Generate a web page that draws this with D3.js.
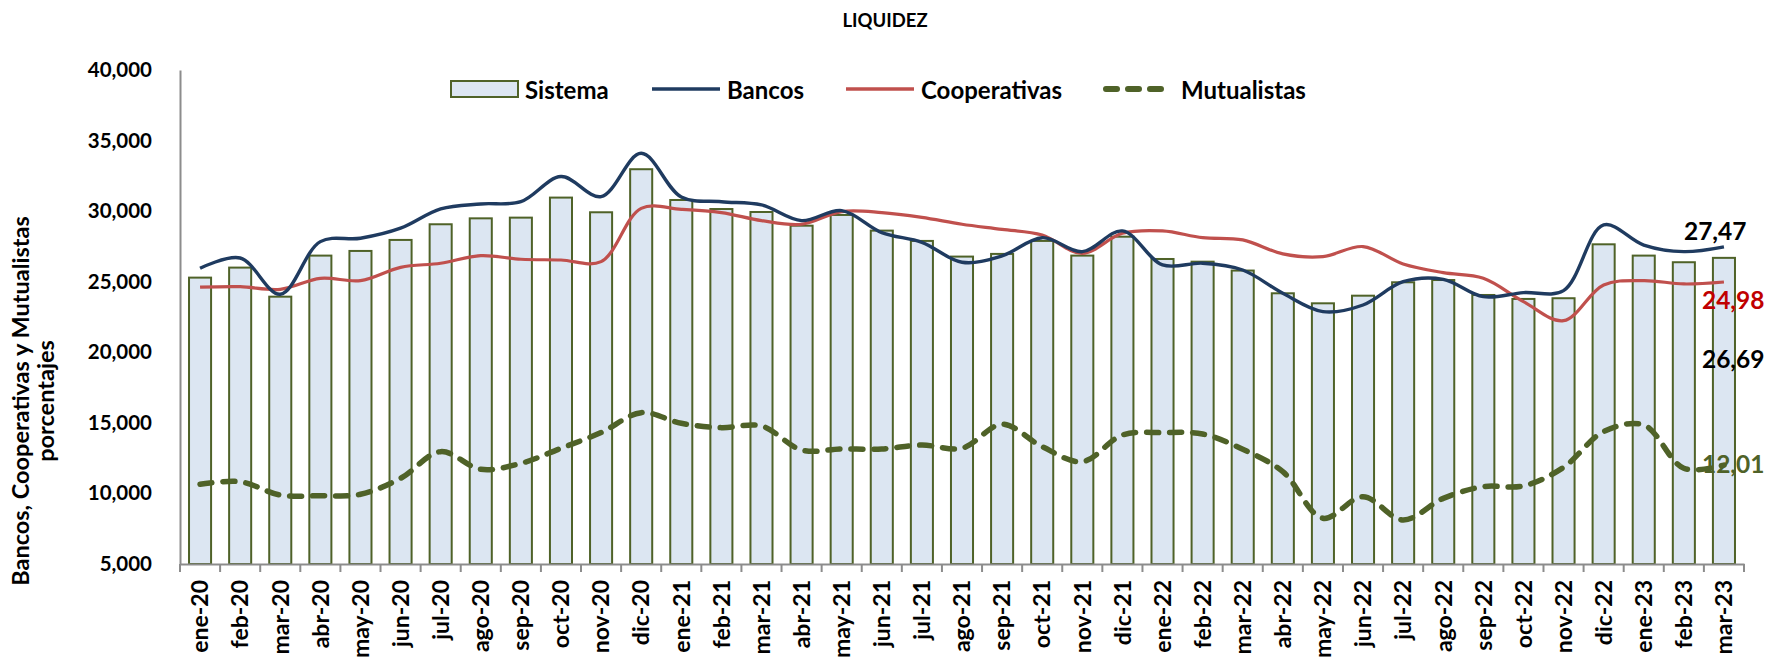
<!DOCTYPE html>
<html>
<head>
<meta charset="utf-8">
<script src="https://cdn.jsdelivr.net/npm/d3@7"></script>
<style>
  html, body { margin: 0; padding: 0; background: #ffffff; }
  svg { display: block; font-family: "Lato", "Open Sans", sans-serif; font-weight: bold; }
</style>
</head>
<body>
<svg id="chart" width="1765" height="661"></svg>
<script>
// Months on the category axis
const categories = [
  "ene-20","feb-20","mar-20","abr-20","may-20","jun-20","jul-20","ago-20","sep-20","oct-20","nov-20","dic-20",
  "ene-21","feb-21","mar-21","abr-21","may-21","jun-21","jul-21","ago-21","sep-21","oct-21","nov-21","dic-21",
  "ene-22","feb-22","mar-22","abr-22","may-22","jun-22","jul-22","ago-22","sep-22","oct-22","nov-22","dic-22",
  "ene-23","feb-23","mar-23"
];

// Sistema (bars)
const sistema = [
  25290, 26000, 23940, 26850, 27180, 27960, 29070, 29490, 29540, 30960, 29920, 32970,
  30790, 30150, 29940, 28970, 29730, 28620, 27890, 26780, 26970, 27890, 26850, 28190,
  26610, 26420, 25790, 24180, 23470, 24010, 24960, 25120, 24060, 23780, 23830, 27650,
  26850, 26380, 26690
];

// Bancos
const bancos = [
  25950, 26680, 24110, 27840, 28080, 28790, 30160, 30510, 30670, 32450, 31030, 34100,
  31000, 30670, 30440, 29330, 30040, 28480, 27790, 26380, 26830, 28120, 27130, 28600,
  26190, 26310, 25830, 24180, 22880, 23350, 25000, 25170, 23940, 24230, 24370, 29020,
  27600, 27130, 27470
];

// Cooperativas
const cooperativas = [
  24610, 24650, 24460, 25240, 25080, 26020, 26310, 26850, 26590, 26540, 26420, 30200,
  30130, 29900, 29330, 29070, 29970, 29900, 29560, 29070, 28710, 28310, 27010, 28430,
  28600, 28120, 27960, 26970, 26780, 27490, 26260, 25640, 25240, 23590, 22240, 24770,
  25080, 24840, 24980
];

// Mutualistas
const mutualistas = [
  10650, 10830, 9890, 9840, 9940, 11070, 12960, 11710, 12130, 13200, 14310, 15720,
  14970, 14660, 14780, 13080, 13150, 13150, 13430, 13200, 14900, 13310, 12250, 14140,
  14310, 14210, 13130, 11540, 8240, 9770, 8120, 9650, 10480, 10530, 11850, 14380,
  14850, 11780, 12010
];

const yTicks = [5000, 10000, 15000, 20000, 25000, 30000, 35000, 40000];

const title = "LIQUIDEZ";
const yTitleLines = ["Bancos, Cooperativas y Mutualistas", "porcentajes"];

const colors = {
  barFill: "#dce6f2",
  barStroke: "#4f6228",
  bancos: "#1f3b60",
  coop: "#c0504d",
  mutual: "#4f6228",
  axis: "#8c8c8c",
  redLabel: "#c00000"
};

const svg = d3.select("#chart");
const plot = { left: 180, right: 1744, top: 70, bottom: 564 };

const x = d3.scaleBand()
  .domain(categories)
  .range([plot.left, plot.right])
  .paddingInner(0.45)
  .paddingOuter(0.225);

const y = d3.scaleLinear()
  .domain([5000, 40000])
  .range([plot.bottom, plot.top]);

const cx = d => x(d) + x.bandwidth() / 2;

// Title
svg.append("text")
  .attr("x", 885).attr("y", 20)
  .attr("text-anchor", "middle")
  .attr("dominant-baseline", "central")
  .style("font-size", "18.5px")
  .text(title);

// Y axis title (two rotated lines)
yTitleLines.forEach((t, i) => {
  svg.append("text")
    .attr("transform", `translate(${20 + i * 25},401) rotate(-90)`)
    .attr("text-anchor", "middle")
    .attr("dominant-baseline", "central")
    .style("font-size", "23.5px")
    .text(t);
});

// Bars
svg.append("g").selectAll("rect")
  .data(categories)
  .join("rect")
  .attr("x", d => x(d))
  .attr("width", x.bandwidth())
  .attr("y", (d, i) => y(sistema[i]))
  .attr("height", (d, i) => y(5000) - y(sistema[i]))
  .attr("fill", colors.barFill)
  .attr("stroke", colors.barStroke)
  .attr("stroke-width", 2);

// Y axis
const yAxis = svg.append("g")
  .attr("transform", `translate(${plot.left},0)`)
  .call(d3.axisLeft(y).tickValues(yTicks).tickSize(0).tickPadding(28).tickFormat(d3.format(",")));
yAxis.select(".domain").attr("stroke", colors.axis).attr("stroke-width", 2);
yAxis.selectAll("text")
  .attr("fill", "#000")
  .style("font-size", "20.5px")
  .style("font-family", "Lato, sans-serif")
  .style("font-weight", "bold");

// X axis
const xAxis = svg.append("g")
  .attr("transform", `translate(0,${plot.bottom})`)
  .call(d3.axisBottom(x).tickSize(0).tickSizeOuter(0));
xAxis.select(".domain").attr("stroke", colors.axis).attr("stroke-width", 2);
xAxis.selectAll(".tick text")
  .attr("transform", "translate(0,16) rotate(-90)")
  .attr("text-anchor", "end")
  .attr("x", 0).attr("y", 0).attr("dy", "0.36em")
  .attr("fill", "#000")
  .style("font-size", "23px")
  .style("font-family", "Lato, sans-serif")
  .style("font-weight", "bold");

// Category separator ticks
const bounds = categories.map(d => x(d) - x.step() * x.paddingInner() / 2).concat([plot.right]);
svg.append("g").selectAll("line")
  .data(bounds)
  .join("line")
  .attr("x1", d => d).attr("x2", d => d)
  .attr("y1", plot.bottom).attr("y2", plot.bottom + 8)
  .attr("stroke", colors.axis)
  .attr("stroke-width", 2);

// Lines
const lineGen = d3.line()
  .x((d, i) => cx(categories[i]))
  .y(d => y(d))
  .curve(d3.curveCatmullRom.alpha(0.5));

svg.append("path").datum(cooperativas)
  .attr("d", lineGen).attr("fill", "none")
  .attr("stroke", colors.coop).attr("stroke-width", 3.2);

svg.append("path").datum(bancos)
  .attr("d", lineGen).attr("fill", "none")
  .attr("stroke", colors.bancos).attr("stroke-width", 3.4);

svg.append("path").datum(mutualistas)
  .attr("d", lineGen).attr("fill", "none")
  .attr("stroke", colors.mutual).attr("stroke-width", 5.5)
  .attr("stroke-linecap", "round")
  .attr("stroke-dasharray", "12,11");

// End-of-series value labels
const last = categories.length - 1;
const lastX = cx(categories[last]);
const fmt = v => (v / 1000).toFixed(2).replace(".", ",");
const endLabels = [
  { v: bancos[last], dx: -40, dy: -7, color: "#000" },
  { v: cooperativas[last], dx: -22, dy: 27, color: colors.redLabel },
  { v: sistema[last], dx: -22, dy: 110, color: "#000" },
  { v: mutualistas[last], dx: -22, dy: 8, color: colors.mutual }
];
svg.append("g").selectAll("text")
  .data(endLabels)
  .join("text")
  .attr("x", d => lastX + d.dx)
  .attr("y", d => y(d.v) + d.dy)
  .attr("fill", d => d.color)
  .style("font-size", "24.5px")
  .text(d => fmt(d.v));

// Legend
const legend = svg.append("g");
const ly = 89;
legend.append("rect")
  .attr("x", 451).attr("y", ly - 8).attr("width", 67).attr("height", 16)
  .attr("fill", colors.barFill).attr("stroke", colors.barStroke).attr("stroke-width", 2);
legend.append("line").attr("x1", 652).attr("x2", 720).attr("y1", ly).attr("y2", ly)
  .attr("stroke", colors.bancos).attr("stroke-width", 3.5);
legend.append("line").attr("x1", 846).attr("x2", 914).attr("y1", ly).attr("y2", ly)
  .attr("stroke", colors.coop).attr("stroke-width", 3.5);
legend.append("line").attr("x1", 1106).attr("x2", 1167).attr("y1", ly).attr("y2", ly)
  .attr("stroke", colors.mutual).attr("stroke-width", 6)
  .attr("stroke-linecap", "round").attr("stroke-dasharray", "11,11");
[["Sistema", 525], ["Bancos", 727], ["Cooperativas", 921], ["Mutualistas", 1181]].forEach(([t, lx]) => {
  legend.append("text")
    .attr("x", lx).attr("y", ly)
    .attr("dominant-baseline", "central")
    .style("font-size", "24px")
    .text(t);
});
</script>
</body>
</html>
